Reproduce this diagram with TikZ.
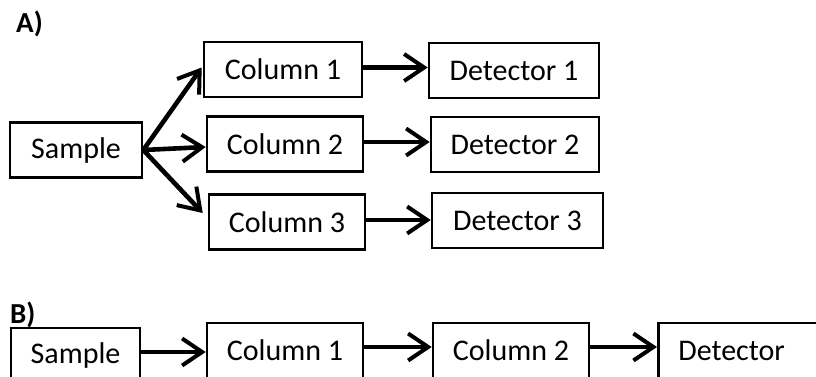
\documentclass[tikz,border=0pt]{standalone}
\usepackage{fontspec}
\setmainfont{Carlito}
\usetikzlibrary{arrows.meta,calc}
\begin{document}
\begin{tikzpicture}[x=1pt,y=-1pt,
  box/.style={draw=black,line width=2.6pt,rectangle,inner sep=0pt,minimum height=55pt,
    font=\fontsize{30}{36}\selectfont},
  conn/.style={line width=4.6pt,-{Straight Barb[length=20pt,width=27pt,line width=4pt]}},
  lbl/.style={font=\fontsize{29}{34}\selectfont\bfseries,inner sep=0pt,anchor=north west}]
\useasboundingbox (0,0) rectangle (816,376);
% Part A
\node[lbl] (la) at (16,11) {A)};
\node[box,minimum width=132pt] (s) at (76,150) {Sample};
\node[box,minimum width=158pt] (c1) at (283,69.5) {Column 1};
\node[box,minimum width=156pt] (c2) at (285,144) {Column 2};
\node[box,minimum width=156pt] (c3) at (287,222) {Column 3};
\node[box,minimum width=170pt] (d1) at (514,70.5) {Detector 1};
\node[box,minimum width=168pt] (d2) at (515,144.5) {Detector 2};
\node[box,minimum width=171pt] (d3) at (517.5,220.5) {Detector 3};
\coordinate (t1) at ($(c1.west)+(-1,-2)$);
\coordinate (t2) at ($(c2.west)+(0,3)$);
\coordinate (t3) at ($(c3.west)+(-5,-9)$);
\draw[conn] (s.east) -- (t1);
\draw[conn] (s.east) -- (t2);
\draw[conn] (s.east) -- (t3);
\draw[conn] ($(c1.east)+(0,-2)$) -- ($(c1.east -| d1.west)+(0,-2)$);
\draw[conn] ($(c2.east)+(0,-2)$) -- ($(c2.east -| d2.west)+(0,-2)$);
\draw[conn] ($(c3.east)+(0,-2)$) -- ($(c3.east -| d3.west)+(0,-2)$);
% Part B
\node[lbl] (lb) at (10,302) {B)};
\node[box,minimum width=129pt] (bs) at (75.5,355.5) {Sample};
\node[box,minimum width=156pt] (bc1) at (285,350.5) {Column 1};
\node[box,minimum width=156pt] (bc2) at (511,350.5) {Column 2};
\node[box,anchor=west,text width=150pt,inner xsep=20pt,align=left] (bd) at (657,350.5) {Detector};
\draw[conn] ($(bs.east)+(0,-3.5)$) -- ($(bs.east -| bc1.west)+(0,-3.5)$);
\draw[conn] ($(bc1.east)+(0,-3.5)$) -- ($(bc1.east -| bc2.west)+(0,-3.5)$);
\draw[conn] ($(bc2.east)+(0,-3.5)$) -- ($(bc2.east -| bd.west)+(0,-3.5)$);
\end{tikzpicture}
\end{document}
